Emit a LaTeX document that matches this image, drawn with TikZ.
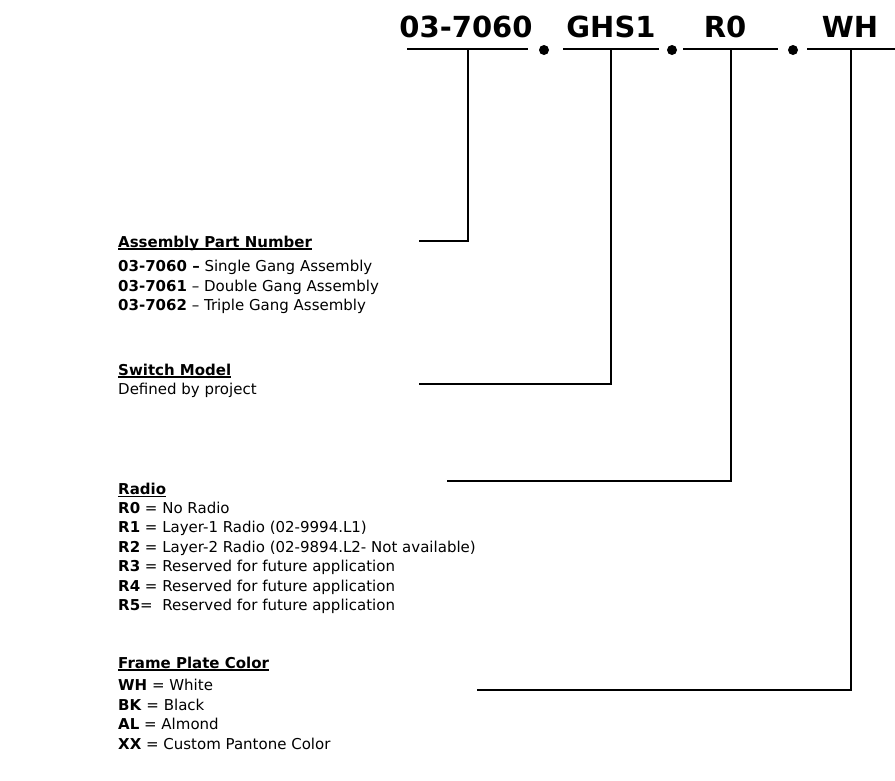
\documentclass[tikz,border=0pt]{standalone}
\usepackage{fontspec}
\setmainfont{DejaVu Sans}
\usetikzlibrary{positioning}
\newcommand\ulbf[1]{\setbox0\hbox{\bfseries #1}\rlap{\rule[-2.4pt]{\wd0}{1.3pt}}\box0}
\tikzset{
  pncode/.style = {font=\fontsize{29}{33}\selectfont\bfseries, inner sep=0pt,
                   anchor=base},
  pnsect/.style = {font=\fontsize{15}{19.5}\selectfont, align=left,
                   inner sep=0pt, anchor=north west},
  pnbar/.style  = {line width=1.3pt},
  pnlead/.style = {line width=1.6pt},
  pndot/.style  = {circle, fill=black, inner sep=0pt, minimum size=10pt},
}

\begin{document}
\begin{tikzpicture}[x=1pt, y=-1pt]
        \useasboundingbox (0,0) rectangle (895,780);

        % the part number
        \node[pncode] (t1) at (466,37) {03-7060};
        \node[pncode] (t2) at (611,37) {GHS1};
        \node[pncode] (t3) at (725,37) {R0};
        \node[pncode] (t4) at (850,37) {WH};

        \draw[pnbar] (407,49) -- (528,49);
        \draw[pnbar] (563,49) -- (659,49);
        \draw[pnbar] (683,49) -- (778,49);
        \draw[pnbar] (807,49) -- (895,49);
        \node[pndot] (d1) at (544,50) {};
        \node[pndot] (d2) at (672,50) {};
        \node[pndot] (d3) at (793,50) {};

        \coordinate (b1) at (468,49);
        \coordinate (b2) at (611,49);
        \coordinate (b3) at (731,49);
        \coordinate (b4) at (851,49);

        % the legend
        \node[pnsect] (s1) at (118,235.5) {\ulbf{Assembly Part Number}\\[5pt]
             \textbf{03-7060 –} Single Gang Assembly\\
             \textbf{03-7061} – Double Gang Assembly\\
             \textbf{03-7062} – Triple Gang Assembly};
        \node[pnsect] (s2) at (118,363.5) {\ulbf{Switch Model}\\
             Defined by project};
        \node[pnsect] (s3) at (118,483) {\ulbf{Radio}\\[-1pt]
             \textbf{R0} = No Radio\\
             \textbf{R1} = Layer-1 Radio (02-9994.L1)\\
             \textbf{R2} = Layer-2 Radio (02-9894.L2- Not available)\\
             \textbf{R3} = Reserved for future application\\
             \textbf{R4} = Reserved for future application\\
             \textbf{R5}=\ \ Reserved for future application};
        \node[pnsect] (s4) at (118,656.5) {\ulbf{Frame Plate Color}\\[3pt]
             \textbf{WH} = White\\
             \textbf{BK} = Black\\
             \textbf{AL} = Almond\\
             \textbf{XX} = Custom Pantone Color};

        \coordinate (e1) at (419,241);
        \coordinate (e2) at (419,384);
        \coordinate (e3) at (447,481);
        \coordinate (e4) at (477,690);

        \draw[pnlead] (b1) |- (e1);
        \draw[pnlead] (b2) |- (e2);
        \draw[pnlead] (b3) |- (e3);
        \draw[pnlead] (b4) |- (e4);
    \end{tikzpicture}
\end{document}
